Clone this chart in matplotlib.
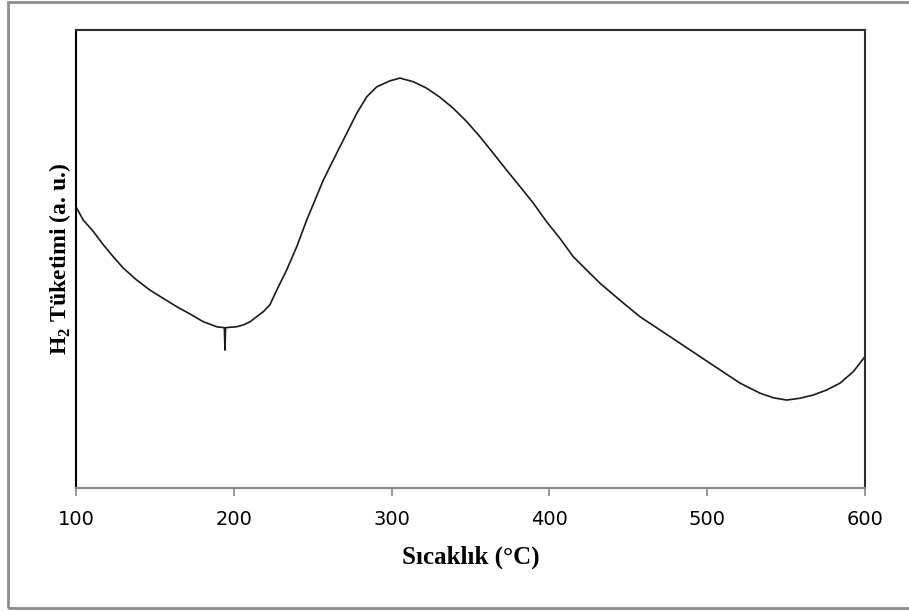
import matplotlib.pyplot as plt
from matplotlib.patches import Rectangle

# H2-TPR trace, temperature (degC) vs. hydrogen consumption (a.u.)
temperature = [100.0, 104.6, 111.0, 117.3, 123.6, 130.0, 138.5, 146.9, 155.3, 163.8,
               172.2, 180.7, 189.2, 194.0, 194.4, 194.8, 197.6, 201.8, 206.0, 210.3,
               214.5, 218.7, 222.9, 227.2, 233.5, 239.9, 246.2, 251.5, 256.7, 261.0,
               266.2, 271.5, 277.9, 284.2, 290.6, 299.0, 305.3, 313.8, 322.2, 330.7,
               339.1, 347.6, 356.0, 364.4, 372.9, 381.4, 389.8, 398.3, 406.7, 415.1,
               423.6, 432.1, 444.7, 457.4, 470.1, 482.8, 495.4, 508.1, 520.8, 533.5,
               541.9, 550.4, 558.8, 567.2, 575.7, 584.2, 592.6, 600.0]
consumption = [0.614, 0.585, 0.560, 0.531, 0.505, 0.480, 0.454, 0.432, 0.414, 0.396,
               0.380, 0.363, 0.352, 0.350, 0.301, 0.350, 0.351, 0.352, 0.356, 0.363,
               0.374, 0.385, 0.400, 0.432, 0.476, 0.527, 0.585, 0.629, 0.672, 0.702,
               0.738, 0.774, 0.818, 0.854, 0.876, 0.889, 0.895, 0.887, 0.873, 0.853,
               0.829, 0.800, 0.767, 0.731, 0.694, 0.658, 0.622, 0.581, 0.545, 0.505,
               0.476, 0.447, 0.410, 0.374, 0.345, 0.316, 0.287, 0.258, 0.229, 0.207,
               0.197, 0.192, 0.196, 0.203, 0.214, 0.229, 0.254, 0.287]

xticks = [100, 200, 300, 400, 500, 600]

plt.rcParams['mathtext.fontset'] = 'custom'
plt.rcParams['mathtext.rm'] = 'Liberation Serif:bold'
plt.rcParams['mathtext.bf'] = 'Liberation Serif:bold'

fig = plt.figure(figsize=(9.09, 6.12), dpi=100)
fig.patches.append(Rectangle((8 / 909, 4 / 612), 1.2, 606 / 612, transform=fig.transFigure,
                             fill=False, edgecolor='#8c8c8c', linewidth=2))

ax = fig.add_axes([76 / 909, 124 / 612, 789 / 909, 458 / 612])
ax.plot(temperature, consumption, color='#1a1a1a', linewidth=1.2)

ax.set_xlim(100, 600)
ax.set_ylim(0, 1)
ax.set_xticks(xticks)
ax.set_yticks([])
ax.tick_params(axis='x', direction='out', length=6, width=1.2, color='#878787',
               labelsize=14, pad=10)

ax.spines['left'].set_color('black')
ax.spines['top'].set_color('#2b2b2b')
ax.spines['right'].set_color('#2b2b2b')
ax.spines['bottom'].set_color('#878787')
for s in ax.spines.values():
    s.set_linewidth(1.5)

ax.set_xlabel('Sıcaklık (°C)', family='Liberation Serif', fontweight='bold',
              fontsize=18, labelpad=12)
ax.set_ylabel(r'H$_\mathbf{2}$ Tüketimi (a. u.)', family='Liberation Serif',
              fontweight='bold', fontsize=17, labelpad=2)

fig.savefig('out.png', dpi=100)
